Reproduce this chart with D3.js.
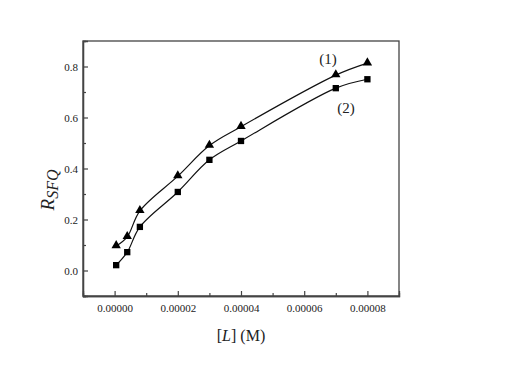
<!DOCTYPE html>
<html lang="en">
  <head>
    <meta charset="utf-8" />
    <script src="https://d3js.org/d3.v7.min.js"></script>
    <style>
      body { margin: 0; background: #fff; }
      text { font-family: "Liberation Serif", "DejaVu Serif", serif; fill: #222; }
    </style>
  </head>
  <body>
    <script type="text/javascript">

      // data
      var concL = [0.0000005, 0.000004, 0.000008, 0.00002, 0.00003, 0.00004, 0.00007, 0.00008];
      var series1 = [0.096, 0.132, 0.234, 0.370, 0.490, 0.564, 0.766, 0.813];
      var series2 = [0.021, 0.072, 0.171, 0.308, 0.434, 0.508, 0.715, 0.750];
      var xTicks = [0, 0.00002, 0.00004, 0.00006, 0.00008];
      var yTicks = [0, 0.2, 0.4, 0.6, 0.8];

      // svg size and plot box
      var w = 524;
      var h = 377;
      var plotLeft = 83;
      var plotRight = 399;
      var plotTop = 41;
      var plotBottom = 296;

      var svg = d3.select("body")
                  .append("svg")
                  .attr("width", w)
                  .attr("height", h);

      var xScale = d3.scaleLinear()
                     .domain([-0.00001, 0.00009])
                     .range([plotLeft, plotRight]);
      var yScale = d3.scaleLinear()
                     .domain([-0.1, 0.9])
                     .range([plotBottom, plotTop]);

      var axisColor = "#444";

      // minor ticks (no labels)
      var xMinor = d3.axisBottom(xScale)
                     .tickValues([0.00001, 0.00003, 0.00005, 0.00007])
                     .tickSize(-3)
                     .tickFormat("");
      var yMinor = d3.axisLeft(yScale)
                     .tickValues([-0.1, 0.1, 0.3, 0.5, 0.7])
                     .tickSize(-3)
                     .tickFormat("");

      // major ticks
      var xAxis = d3.axisBottom(xScale)
                    .tickValues(xTicks)
                    .tickSize(-5)
                    .tickPadding(8)
                    .tickFormat(d3.format(".5f"));
      var yAxis = d3.axisLeft(yScale)
                    .tickValues(yTicks)
                    .tickSize(-5)
                    .tickPadding(5)
                    .tickFormat(d3.format(".1f"));

      // frame (top and right)
      svg.append("rect")
         .attr("x", plotLeft)
         .attr("y", plotTop)
         .attr("width", plotRight - plotLeft)
         .attr("height", plotBottom - plotTop)
         .attr("fill", "none")
         .attr("stroke", axisColor)
         .attr("stroke-width", 1.3);

      [xMinor, xAxis].forEach(function(ax) {
        svg.append("g")
           .attr("transform", "translate(0," + plotBottom + ")")
           .call(ax);
      });
      [yMinor, yAxis].forEach(function(ax) {
        svg.append("g")
           .attr("transform", "translate(" + plotLeft + ",0)")
           .call(ax);
      });

      svg.selectAll(".domain")
         .attr("stroke", axisColor)
         .attr("stroke-width", 1.3);
      svg.selectAll(".tick line")
         .attr("stroke", axisColor)
         .attr("stroke-width", 1.2);
      svg.selectAll(".tick text")
         .style("font-family", "'Liberation Serif', serif")
         .style("font-size", "11px")
         .attr("fill", "#222");

      // curves
      var line = d3.line()
                   .x(function(d) { return xScale(d[0]); })
                   .y(function(d) { return yScale(d[1]); })
                   .curve(d3.curveCatmullRom.alpha(0.5));

      var data1 = concL.map(function(c, i) { return [c, series1[i]]; });
      var data2 = concL.map(function(c, i) { return [c, series2[i]]; });

      [data1, data2].forEach(function(d) {
        svg.append("path")
           .datum(d)
           .attr("fill", "none")
           .attr("stroke", "#111")
           .attr("stroke-width", 1.2)
           .attr("d", line);
      });

      // markers
      var tri = d3.symbol().type(d3.symbolTriangle).size(38);
      var sq = d3.symbol().type(d3.symbolSquare).size(40);

      svg.selectAll(".tri")
         .data(data1)
         .enter()
         .append("path")
         .attr("class", "tri")
         .attr("d", tri)
         .attr("fill", "#000")
         .attr("transform", function(d) {
           return "translate(" + xScale(d[0]) + "," + (yScale(d[1]) - 0.5) + ")";
         });

      svg.selectAll(".sq")
         .data(data2)
         .enter()
         .append("path")
         .attr("class", "sq")
         .attr("d", sq)
         .attr("fill", "#000")
         .attr("transform", function(d) {
           return "translate(" + xScale(d[0]) + "," + yScale(d[1]) + ")";
         });

      // curve labels
      svg.append("text")
         .attr("x", 328)
         .attr("y", 64)
         .attr("text-anchor", "middle")
         .style("font-size", "15px")
         .text("(1)");
      svg.append("text")
         .attr("x", 346)
         .attr("y", 113)
         .attr("text-anchor", "middle")
         .style("font-size", "15px")
         .text("(2)");

      // x label
      var xl = svg.append("text")
                  .attr("x", (plotLeft + plotRight) / 2)
                  .attr("y", 341)
                  .attr("text-anchor", "middle")
                  .style("font-size", "16px");
      xl.append("tspan").text("[");
      xl.append("tspan").style("font-style", "italic").text("L");
      xl.append("tspan").text("] (M)");

      // y label
      var yl = svg.append("text")
                  .attr("transform", "translate(54," + 190 + ") rotate(-90)")
                  .attr("text-anchor", "middle")
                  .style("font-style", "italic")
                  .style("font-size", "19px");
      yl.append("tspan").text("R");
      yl.append("tspan")
        .attr("dy", 4)
        .style("font-size", "16px")
        .text("SFQ");

    </script>
  </body>
</html>
